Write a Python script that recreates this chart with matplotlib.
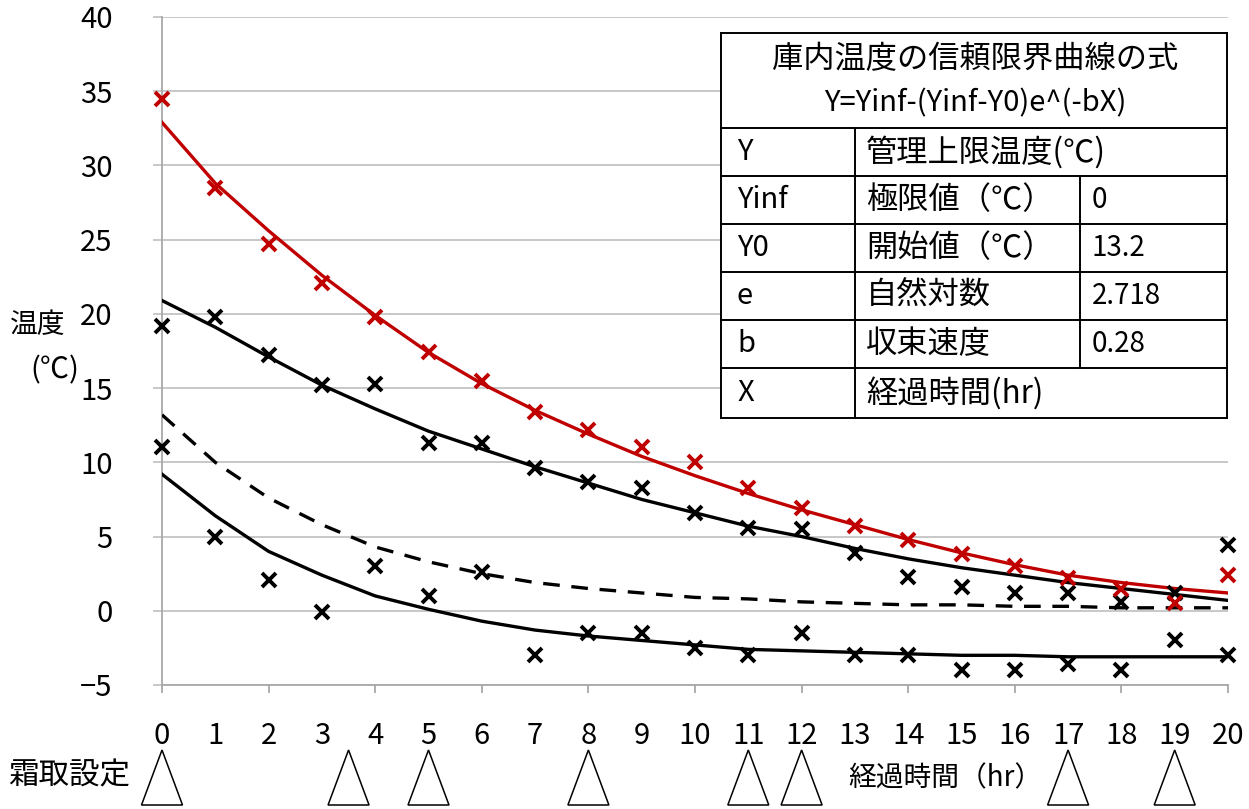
import matplotlib.pyplot as plt
import matplotlib.transforms as mtransforms
from matplotlib.patches import Polygon
from matplotlib.lines import Line2D

plt.rcParams['font.family'] = ['Noto Sans CJK JP', 'DejaVu Sans']

############################
# data
############################
hours = list(range(21))

red_pts = [34.5, 28.5, 24.7, 22.1, 19.8, 17.4, 15.5, 13.4, 12.2, 11.0, 10.0,
           8.3, 6.9, 5.7, 4.8, 3.8, 3.0, 2.2, 1.5, 0.5, 2.4]
upper_pts = [19.2, 19.8, 17.2, 15.2, 15.3, 11.3, 11.3, 9.6, 8.7, 8.3, 6.6,
             5.6, 5.5, 3.9, 2.3, 1.6, 1.2, 1.2, 0.6, 1.2, 4.4]
lower_pts = [11.0, 5.0, 2.1, -0.1, 3.0, 1.0, 2.6, -3.0, -1.5, -1.5, -2.5,
             -3.0, -1.5, -3.0, -3.0, -4.0, -4.0, -3.6, -4.0, -2.0, -3.0]

red_curve = [32.9, 28.8, 25.6, 22.6, 19.9, 17.4, 15.3, 13.5, 11.9, 10.4, 9.1,
             7.9, 6.8, 5.8, 4.8, 3.9, 3.1, 2.4, 1.9, 1.5, 1.2]
upper_curve = [20.9, 19.1, 17.1, 15.2, 13.6, 12.1, 10.9, 9.7, 8.6, 7.5, 6.6,
               5.7, 5.0, 4.2, 3.5, 2.9, 2.4, 1.9, 1.5, 1.1, 0.7]
dashed_curve = [13.2, 10.0, 7.6, 5.8, 4.3, 3.3, 2.5, 1.9, 1.5, 1.2, 0.9,
                0.8, 0.6, 0.5, 0.4, 0.4, 0.3, 0.3, 0.2, 0.2, 0.2]
lower_curve = [9.2, 6.4, 4.0, 2.4, 1.0, 0.1, -0.7, -1.3, -1.7, -2.0, -2.3,
               -2.6, -2.7, -2.8, -2.9, -3.0, -3.0, -3.1, -3.1, -3.1, -3.1]

defrost_hours = [0, 3.5, 5, 8, 11, 12, 17, 19]

table_title = ['庫内温度の信頼限界曲線の式', 'Y=Yinf-(Yinf-Y0)e^(-bX)']
table_sym = ['Y', 'Yinf', 'Y0', 'e', 'b', 'X']
table_name = ['管理上限温度(℃)', '極限値（℃）', '開始値（℃）', '自然対数', '収束速度', '経過時間(hr)']
table_val = ['', '0', '13.2', '2.718', '0.28', '']

############################
# figure
############################
W, H = 1249, 809
fig = plt.figure(figsize=(W / 100, H / 100), dpi=100)


def fx(x):
    return x / W


def fy(y):
    return 1 - y / H


ax = fig.add_axes([fx(162), fy(685), fx(1228) - fx(162), fy(17) - fy(685)])
ax.set_xlim(0, 20)
ax.set_ylim(-5, 40)

red = '#C00000'
grid_c = '#c4c4c4'

ax.plot(hours, red_curve, color=red, lw=2.4, zorder=3)
ax.plot(hours, upper_curve, color='k', lw=2.4, zorder=3)
ax.plot(hours, lower_curve, color='k', lw=2.4, zorder=3)
ax.plot(hours, dashed_curve, color='k', lw=2.4, ls=(0, (5, 3.5)), zorder=3)

mk = dict(ls='none', marker='x', ms=9.5, mew=2.8, clip_on=False, zorder=4)
ax.plot(hours, upper_pts, color='k', **mk)
ax.plot(hours, lower_pts, color='k', **mk)
ax.plot(hours, red_pts, color=red, **mk)

# axes styling
ax.set_yticks(range(-5, 41, 5))
ax.yaxis.grid(True, color=grid_c, lw=1.3)
ax.set_axisbelow(True)
for s in ['top', 'right']:
    ax.spines[s].set_visible(False)
for s in ['left', 'bottom']:
    ax.spines[s].set_color('#a8a8a8')
    ax.spines[s].set_linewidth(1.3)

ax.set_xticks(range(0, 21, 2))
ax.set_xticklabels([str(h) for h in range(0, 21, 2)])
ax.set_xticks(range(1, 21, 2), minor=True)
ax.set_xticklabels([str(h) for h in range(1, 21, 2)], minor=True)

tick_font = ['Liberation Sans Narrow', 'Noto Sans CJK JP']
ax.tick_params(axis='y', length=6.5, width=1.3, color=grid_c, pad=29, labelsize=21)
ax.tick_params(axis='x', which='major', length=5.8, width=1.3, color='#a8a8a8',
               pad=20, labelsize=21)
ax.tick_params(axis='x', which='minor', length=0, pad=25.8, labelsize=21)
for lbl in ax.get_xticklabels() + ax.get_xticklabels(minor=True) + ax.get_yticklabels():
    lbl.set_family(tick_font)

# y label
fig.text(fx(38), fy(325), '温度', fontsize=20, ha='center', va='center')
fig.text(fx(55), fy(370), '(℃)', fontsize=21, ha='center', va='center')

# bottom labels
fig.text(fx(8), fy(776), '霜取設定', fontsize=22, ha='left', va='center')
fig.text(fx(945), fy(778), '経過時間（hr）', fontsize=20, ha='center', va='center')

# defrost triangles: x in data, y in figure pixels
tr = mtransforms.blended_transform_factory(ax.transData, fig.transFigure)
half = 20.5 / (1066 / 20)
for h in defrost_hours:
    tri = Polygon([(h - half, fy(805)), (h + half, fy(805)), (h, fy(750))],
                  closed=True, fill=False, edgecolor='k', lw=1.1,
                  transform=tr, clip_on=False)
    fig.add_artist(tri)

# formula table
tx0, tx1, tx2, tx3 = 721, 855, 1080, 1227
row_y = [33, 128, 176, 224, 272, 320, 368, 418]
lw_t = 1.4


def hline(x0, x1, y):
    fig.add_artist(Line2D([fx(x0), fx(x1)], [fy(y), fy(y)], color='k', lw=lw_t))


def vline(x, y0, y1):
    fig.add_artist(Line2D([fx(x), fx(x)], [fy(y0), fy(y1)], color='k', lw=lw_t))


fig.add_artist(plt.Rectangle((fx(tx0), fy(418)), fx(tx3) - fx(tx0), fy(33) - fy(418),
                             facecolor='white', edgecolor='none', zorder=0.5))
for y in row_y:
    hline(tx0, tx3, y)
vline(tx0, 33, 418)
vline(tx3, 33, 418)
vline(tx1, 128, 418)
vline(tx2, 176, 368)

fig.text(fx(975), fy(59), table_title[0], fontsize=22.5, ha='center', va='center')
fig.text(fx(975), fy(103), table_title[1], fontsize=21, ha='center', va='center')
for i in range(len(table_sym)):
    yc = (row_y[i + 1] + row_y[i + 2]) / 2
    fig.text(fx(737), fy(yc), table_sym[i], fontsize=21, ha='left', va='center')
    fig.text(fx(866), fy(yc), table_name[i], fontsize=22.5, ha='left', va='center')
    if table_val[i]:
        fig.text(fx(1092), fy(yc), table_val[i], fontsize=20, ha='left', va='center',
                 family=tick_font)

fig.savefig('out.png', dpi=100)
